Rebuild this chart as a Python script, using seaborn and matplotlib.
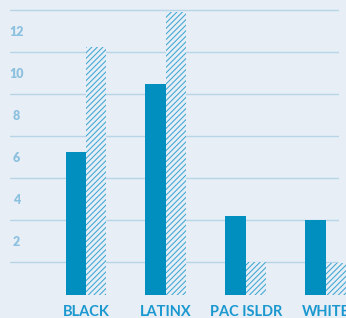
import matplotlib
matplotlib.use("Agg")
import matplotlib.pyplot as plt
import seaborn as sns
import pandas as pd
from matplotlib.ticker import FixedLocator

categories = ["BLACK", "LATINX", "PAC ISLDR", "WHITE"]
series_a = [6.25, 9.47, 3.21, 3.0]     # solid bars
series_b = [11.2, 12.9, 1.0, 0.98]     # hatched bars
series_names = ["A", "B"]
ytick_vals = [2, 4, 6, 8, 10, 12]
grid_vals = [1, 3, 5, 7, 9, 11, 13]

BG = "#e7eef5"
SOLID = "#008fbe"
HATCH = "#3ea7d4"
GRID = "#b8d5e7"
YLAB = "#8cc1df"
XLAB = "#1a98cf"
BASE = -0.54

df = pd.DataFrame({
    "cat": categories * 2,
    "val": series_a + series_b,
    "series": [series_names[0]] * 4 + [series_names[1]] * 4,
})

sns.set_theme(style="white")
plt.rcParams["font.family"] = ["Lato", "DejaVu Sans"]
plt.rcParams["hatch.linewidth"] = 0.75
plt.rcParams["hatch.color"] = HATCH

fig = plt.figure(figsize=(3.46, 3.18), dpi=100, facecolor=BG)
ax = fig.add_axes([10 / 346, 23.3 / 318, 329 / 346, 294.7 / 318])
ax.set_facecolor(BG)

sns.barplot(data=df, x="cat", y="val", hue="series", order=categories,
            hue_order=series_names, palette=[SOLID, HATCH], width=0.51,
            gap=0, dodge=True, legend=False, ax=ax, saturation=1)

n = len(categories)
for i, p in enumerate(ax.patches[:2 * n]):
    h = p.get_height()
    p.set_y(BASE)
    p.set_height(h - BASE)
    p.set_clip_on(False)
    p.set_linewidth(0)
    if i >= n:
        p.set_facecolor(BG)
        p.set_edgecolor(HATCH)
        p.set_hatch("//////")

ax.set_xlim(-0.951, 3.167)
ax.set_ylim(BASE, 13.455)

ax.yaxis.set_major_locator(FixedLocator(ytick_vals))
ax.set_yticklabels([str(v) for v in ytick_vals])
ax.yaxis.set_minor_locator(FixedLocator(grid_vals))
ax.grid(False)
ax.grid(True, which="minor", axis="y", color=GRID, linewidth=1.0)
ax.set_axisbelow(True)
ax.tick_params(axis="y", which="both", length=0, pad=-4.5, labelsize=9,
               labelcolor=YLAB)
for t in ax.get_yticklabels():
    t.set_ha("center")
    t.set_fontweight("heavy")

ax.tick_params(axis="x", length=0, pad=7.5, labelsize=10.5, labelcolor=XLAB)
for t in ax.get_xticklabels():
    t.set_fontweight("bold")

ax.set_xlabel("")
ax.set_ylabel("")
for s in ax.spines.values():
    s.set_visible(False)

fig.savefig("out.png", dpi=100, facecolor=BG)
